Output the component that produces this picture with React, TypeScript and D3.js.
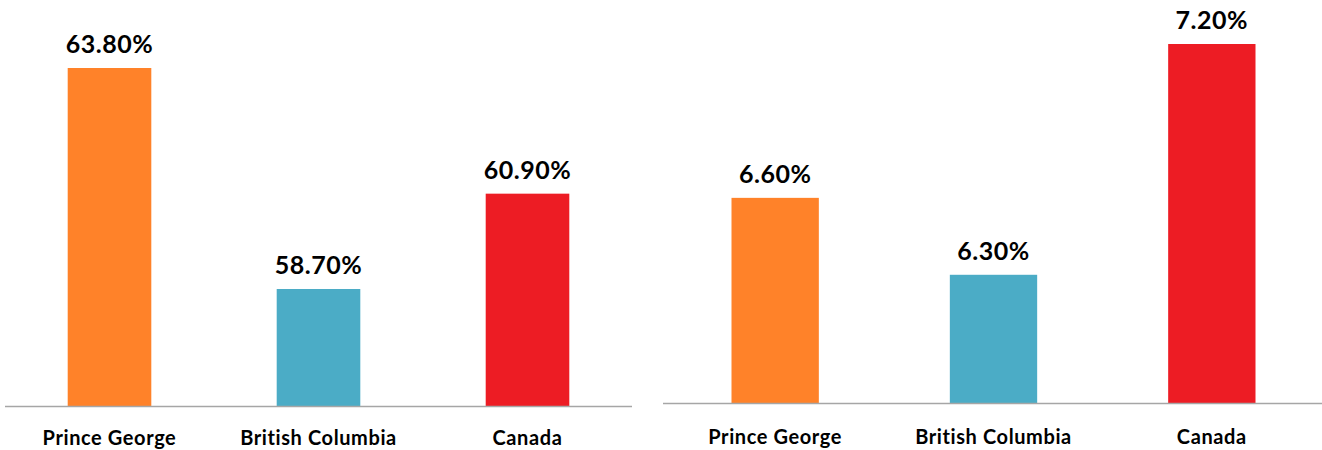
import { useEffect, useRef } from 'react';
import * as d3 from 'd3';

const categories = ['Prince George', 'British Columbia', 'Canada'];
const leftValues = [63.8, 58.7, 60.9];
const rightValues = [6.6, 6.3, 7.2];
const colors = ['#FF8229', '#4BACC6', '#ED1C24'];

const W = 1322;
const H = 450;
const FONT = 'Lato, "Open Sans", sans-serif';

const App = () => {
    const svgRef = useRef<SVGSVGElement>(null);

    useEffect(() => {
        if (!svgRef.current) return;
        const svg = d3.select(svgRef.current);
        svg.selectAll('*').remove();

        const panels = [
            { values: leftValues, min: 56, axisX: [5, 632], range: [5, 632], base: 406, top: 68, labelY: 445 },
            { values: rightValues, min: 5.8, axisX: [663, 1322], range: [666, 1321], base: 403, top: 44, labelY: 444 },
        ];

        panels.forEach(p => {
            const g = svg.append('g');
            const x = d3.scaleBand()
                .domain(categories)
                .range(p.range as [number, number])
                .paddingInner(0.6)
                .paddingOuter(0.3);
            const maxV = d3.max(p.values) || 1;
            const y = d3.scaleLinear()
                .domain([p.min, maxV])
                .range([p.base, p.top]);

            g.selectAll('rect')
                .data(p.values)
                .enter()
                .append('rect')
                .attr('x', (_, i) => x(categories[i]) || 0)
                .attr('y', d => y(d))
                .attr('width', x.bandwidth())
                .attr('height', d => p.base - y(d))
                .attr('fill', (_, i) => colors[i]);

            g.append('line')
                .attr('x1', p.axisX[0])
                .attr('x2', p.axisX[1])
                .attr('y1', p.base + 0.5)
                .attr('y2', p.base + 0.5)
                .attr('stroke', '#a6a6a6')
                .attr('stroke-width', 1.5);

            g.selectAll('.val')
                .data(p.values)
                .enter()
                .append('text')
                .attr('x', (_, i) => (x(categories[i]) || 0) + x.bandwidth() / 2)
                .attr('y', d => y(d) - 15)
                .attr('text-anchor', 'middle')
                .attr('font-family', FONT)
                .attr('font-weight', 'bold')
                .attr('font-size', 25)
                .attr('letter-spacing', 0.5)
                .attr('fill', '#000')
                .text(d => `${d.toFixed(2)}%`);

            g.selectAll('.cat')
                .data(categories)
                .enter()
                .append('text')
                .attr('x', d => (x(d) || 0) + x.bandwidth() / 2)
                .attr('y', p.labelY)
                .attr('text-anchor', 'middle')
                .attr('font-family', FONT)
                .attr('font-weight', 'bold')
                .attr('font-size', 20)
                .attr('letter-spacing', 0.6)
                .attr('fill', '#000')
                .text(d => d);
        });
    }, []);

    return (
        <div style={{ position: 'fixed', left: 0, top: 0, background: '#fff' }}>
            <svg ref={svgRef} width={W} height={H} style={{ display: 'block' }}></svg>
        </div>
    );
};

export default App;
